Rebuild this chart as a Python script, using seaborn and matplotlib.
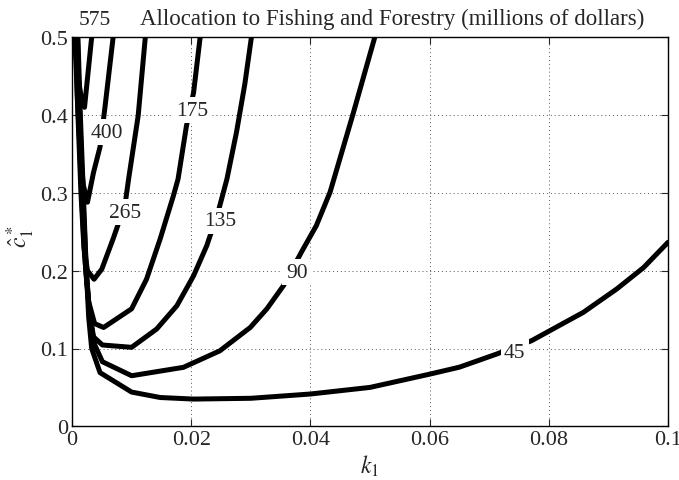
import seaborn as sns
import pandas as pd
import matplotlib.pyplot as plt

# contour levels (millions of dollars) and traced curves (k1, c1*)
levels = [45, 90, 135, 175, 265, 400, 575]

k_45 = [0.0010, 0.0014, 0.0019, 0.0024, 0.0028, 0.0033, 0.0047, 0.0100, 0.0148, 0.0204,
        0.0300, 0.0400, 0.0500, 0.0600, 0.0650, 0.0713, 0.0771, 0.0802, 0.0858, 0.0914,
        0.0959, 0.1000]
c_45 = [0.500, 0.400, 0.300, 0.200, 0.140, 0.100, 0.069, 0.044, 0.037, 0.035,
        0.036, 0.0415, 0.050, 0.067, 0.076, 0.093, 0.110, 0.123, 0.1465, 0.1765,
        0.204, 0.2365]

k_90 = [0.0009, 0.0013, 0.0018, 0.0024, 0.0030, 0.0038, 0.0051, 0.0100, 0.0187, 0.0248,
        0.0299, 0.0327, 0.0355, 0.0385, 0.0410, 0.0433, 0.0471, 0.0508]
c_90 = [0.500, 0.400, 0.300, 0.200, 0.140, 0.105, 0.083, 0.065, 0.0758, 0.097,
        0.127, 0.151, 0.181, 0.224, 0.258, 0.301, 0.400, 0.500]

k_135 = [0.0008, 0.0012, 0.0017, 0.0023, 0.0029, 0.0036, 0.0051, 0.0100, 0.0142, 0.0176,
         0.0204, 0.0226, 0.0245, 0.0260, 0.0276, 0.0290, 0.0301]
c_135 = [0.500, 0.400, 0.300, 0.200, 0.150, 0.115, 0.1045, 0.1015, 0.125, 0.155,
         0.1935, 0.232, 0.275, 0.318, 0.378, 0.440, 0.500]

k_175 = [0.0007, 0.0011, 0.0016, 0.0021, 0.0028, 0.0038, 0.0053, 0.0100, 0.0125, 0.0148,
         0.0170, 0.0178, 0.0192, 0.0204, 0.0215]
c_175 = [0.500, 0.400, 0.300, 0.220, 0.160, 0.132, 0.127, 0.151, 0.189, 0.241,
         0.296, 0.318, 0.386, 0.429, 0.500]

k_265 = [0.0006, 0.0010, 0.0015, 0.0020, 0.0026, 0.0037, 0.0050, 0.0069, 0.0089, 0.0095,
         0.0111, 0.0123]
c_265 = [0.500, 0.400, 0.300, 0.230, 0.200, 0.189, 0.202, 0.241, 0.285, 0.318,
         0.399, 0.500]

k_400 = [0.0005, 0.0009, 0.0014, 0.0019, 0.0026, 0.0036, 0.0047, 0.0055, 0.0069]
c_400 = [0.500, 0.420, 0.350, 0.310, 0.288, 0.326, 0.359, 0.408, 0.500]

k_575 = [0.0004, 0.0010, 0.0016, 0.0021, 0.0033]
c_575 = [0.500, 0.450, 0.420, 0.410, 0.500]

# where each level's label sits
label_k = [0.0743, 0.0377, 0.0248, 0.0201, 0.0089, 0.0058, 0.0039]
label_c = [0.095, 0.198, 0.264, 0.406, 0.275, 0.378, 0.523]

curves = {45: (k_45, c_45), 90: (k_90, c_90), 135: (k_135, c_135), 175: (k_175, c_175),
          265: (k_265, c_265), 400: (k_400, c_400), 575: (k_575, c_575)}

rows = []
for lev, (ks, cs) in curves.items():
    for i, (k, c) in enumerate(zip(ks, cs)):
        rows.append({'level': lev, 'order': i, 'k1': k, 'c1': c})
df = pd.DataFrame(rows)

sns.set_style('ticks')
plt.rcParams['font.family'] = ['Liberation Serif', 'DejaVu Serif']
plt.rcParams['mathtext.fontset'] = 'stix'

fig = plt.figure(figsize=(6.79, 4.81), dpi=100)
ax = fig.add_axes([72 / 679, 1 - 427.3 / 481, 596 / 679, 389 / 481])

for lev in levels:
    sub = df[df['level'] == lev]
    sns.lineplot(data=sub, x='k1', y='c1', sort=False, estimator=None, color='black',
                 lw=3.6, ax=ax, legend=False, zorder=3)

for lev, k, c in zip(levels, label_k, label_c):
    ax.text(k, c, str(lev), fontsize=15.5, ha='center', va='center', zorder=5,
            clip_on=False,
            bbox=dict(facecolor='white', edgecolor='none', pad=2.5) if lev != 575 else None)

ax.set_xlim(0, 0.1)
ax.set_ylim(0, 0.5)
ax.set_xticks([0, 0.02, 0.04, 0.06, 0.08, 0.1])
ax.set_xticklabels(['0', '0.02', '0.04', '0.06', '0.08', '0.1'])
ax.set_yticks([0, 0.1, 0.2, 0.3, 0.4, 0.5])
ax.set_yticklabels(['0', '0.1', '0.2', '0.3', '0.4', '0.5'])
ax.tick_params(direction='in', length=5, width=0.8, labelsize=16, top=True, right=True, pad=3)
ax.grid(True, color='#555555', linestyle=(0, (1, 3)), lw=0.7)
for s in ax.spines.values():
    s.set_linewidth(1.0)
    s.set_color('black')
    s.set_zorder(6)

ax.set_xlabel(r'$k_1$', fontsize=17, labelpad=2)
ax.set_ylabel(r'$\hat{c}_1^*$', fontsize=17)
ax.yaxis.set_label_coords(-0.0587, 0.49)
ax.text(0.537, 1.048, 'Allocation to Fishing and Forestry (millions of dollars)',
        transform=ax.transAxes, ha='center', va='center', fontsize=16.5)

fig.savefig('out.png', dpi=100)
